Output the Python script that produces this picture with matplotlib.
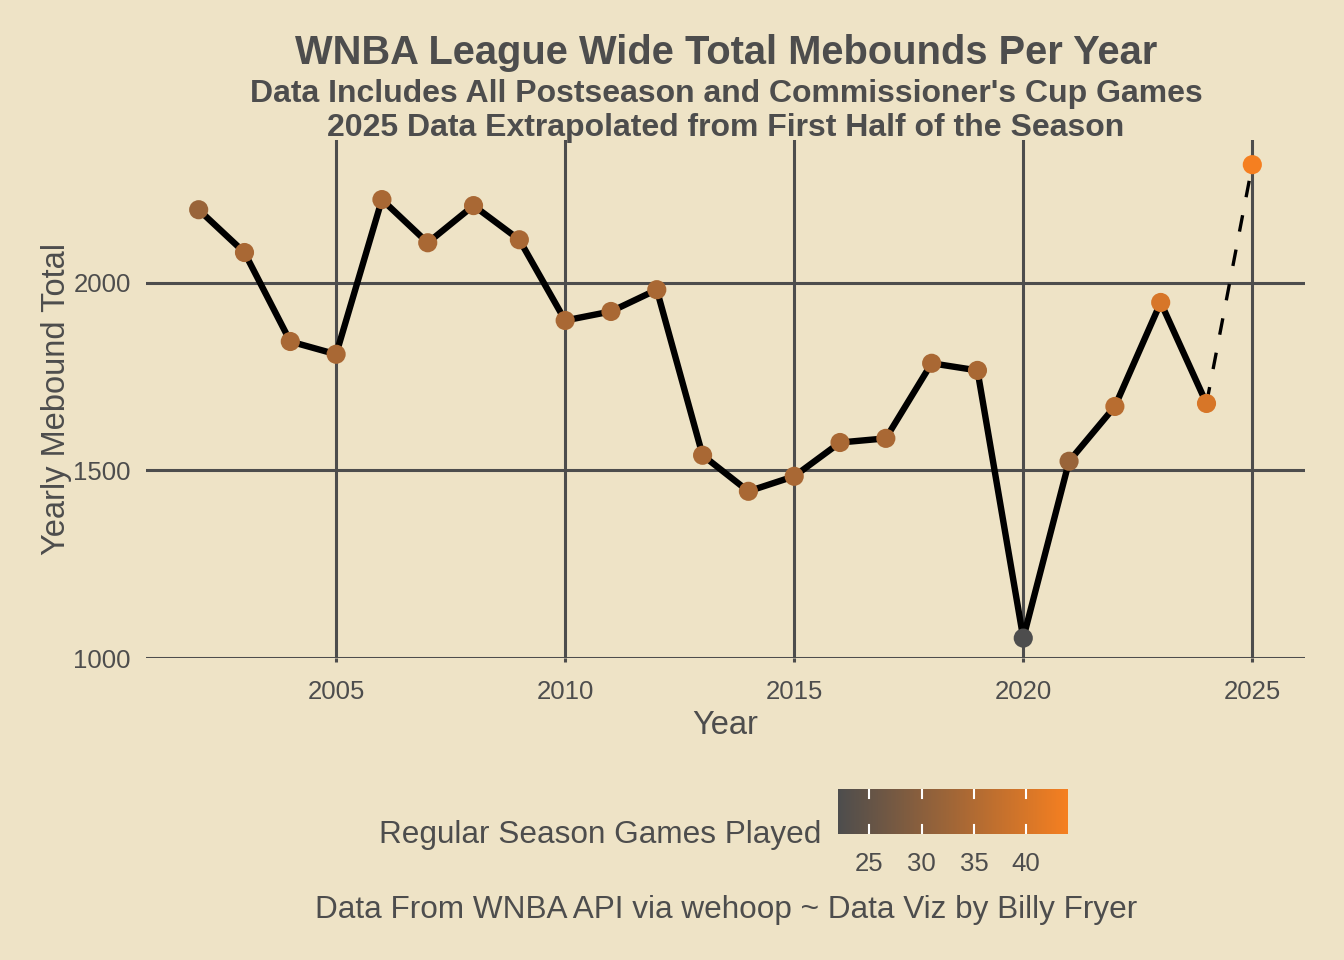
import matplotlib
matplotlib.use("Agg")
import matplotlib.pyplot as plt
import numpy as np
from matplotlib.colors import LinearSegmentedColormap, Normalize

years = [2002, 2003, 2004, 2005, 2006, 2007, 2008, 2009, 2010, 2011, 2012, 2013,
         2014, 2015, 2016, 2017, 2018, 2019, 2020, 2021, 2022, 2023, 2024, 2025]
mebounds = [2194, 2080, 1843, 1809, 2221, 2106, 2205, 2114, 1899, 1923, 1981, 1540,
            1444, 1484, 1574, 1585, 1785, 1766, 1053, 1524, 1670, 1947, 1678, 2314]
games = [32, 34, 34, 34, 34, 34, 34, 34, 34, 34, 34, 34,
         34, 34, 34, 34, 34, 34, 22, 32, 36, 40, 40, 44]
x_ticks = [2005, 2010, 2015, 2020, 2025]
y_ticks = [1000, 1500, 2000]
cbar_ticks = [25, 30, 35, 40]

BG = "#EEE3C6"
INK = "#4D4D4D"
FONT = ["Liberation Sans", "DejaVu Sans"]
plt.rcParams['font.family'] = FONT

cmap = LinearSegmentedColormap.from_list("games", ["#4D4D4D", "#F57F20"])
norm = Normalize(vmin=22, vmax=44)

fig = plt.figure(figsize=(13.44, 9.6), dpi=100, facecolor=BG)
ax = fig.add_axes([146/1344, 1-658/960, (1305-146)/1344, (658-140)/960])
ax.set_facecolor(BG)

ax.set_xlim(2000.85, 2026.15)
ax.set_ylim(1000, 2379.7)
for s in ax.spines.values():
    s.set_visible(False)
ax.set_xticks(x_ticks)
ax.set_yticks(y_ticks)
ax.grid(True, color=INK, linewidth=2.2, zorder=0)
ax.set_axisbelow(True)
ax.tick_params(axis='x', length=3, width=2.2, color=INK, labelsize=18.5, labelcolor=INK, pad=13)
ax.tick_params(axis='y', length=0, labelsize=18.5, labelcolor=INK, pad=11)

ax.plot(years[:-1], mebounds[:-1], color="black", linewidth=4.6, zorder=2, solid_capstyle='butt')
ax.plot(years[-2:], mebounds[-2:], color="black", linewidth=2.4, linestyle=(0, (5, 5.5)), zorder=2)
sc = ax.scatter(years, mebounds, c=games, cmap=cmap, norm=norm, s=190, zorder=3, linewidths=0)

ax.set_xlabel("Year", fontsize=23.5, color=INK, labelpad=4)
ax.set_ylabel("Yearly Mebound Total", fontsize=23.5, color=INK, labelpad=1)

fig.text(726/1344, 1-53/960, "WNBA League Wide Total Mebounds Per Year", ha='center', va='center',
         fontsize=28.7, fontweight='bold', color=INK)
fig.text(726/1344, 1-94/960, "Data Includes All Postseason and Commissioner's Cup Games", ha='center',
         va='center', fontsize=23, fontweight='bold', color=INK)
fig.text(726/1344, 1-128/960, "2025 Data Extrapolated from First Half of the Season", ha='center',
         va='center', fontsize=23, fontweight='bold', color=INK)

cax = fig.add_axes([838/1344, 1-834/960, 230/1344, 45/960])
cb = fig.colorbar(sc, cax=cax, orientation='horizontal')
cb.outline.set_visible(False)
cb.set_ticks(cbar_ticks)
cax.tick_params(length=0, labelsize=18.5, labelcolor=INK, pad=13)
for t in cbar_ticks:
    cax.plot([t, t], [0, 0.2], color="white", linewidth=1.5, transform=cax.get_xaxis_transform())
    cax.plot([t, t], [0.8, 1.0], color="white", linewidth=1.5, transform=cax.get_xaxis_transform())

fig.text(821/1344, 1-835/960, "Regular Season Games Played", ha='right', va='center',
         fontsize=22.7, color=INK)
fig.text(726/1344, 1-910/960, "Data From WNBA API via wehoop ~ Data Viz by Billy Fryer", ha='center',
         va='center', fontsize=22.7, color=INK)

fig.savefig("out.png", dpi=100, facecolor=BG)
